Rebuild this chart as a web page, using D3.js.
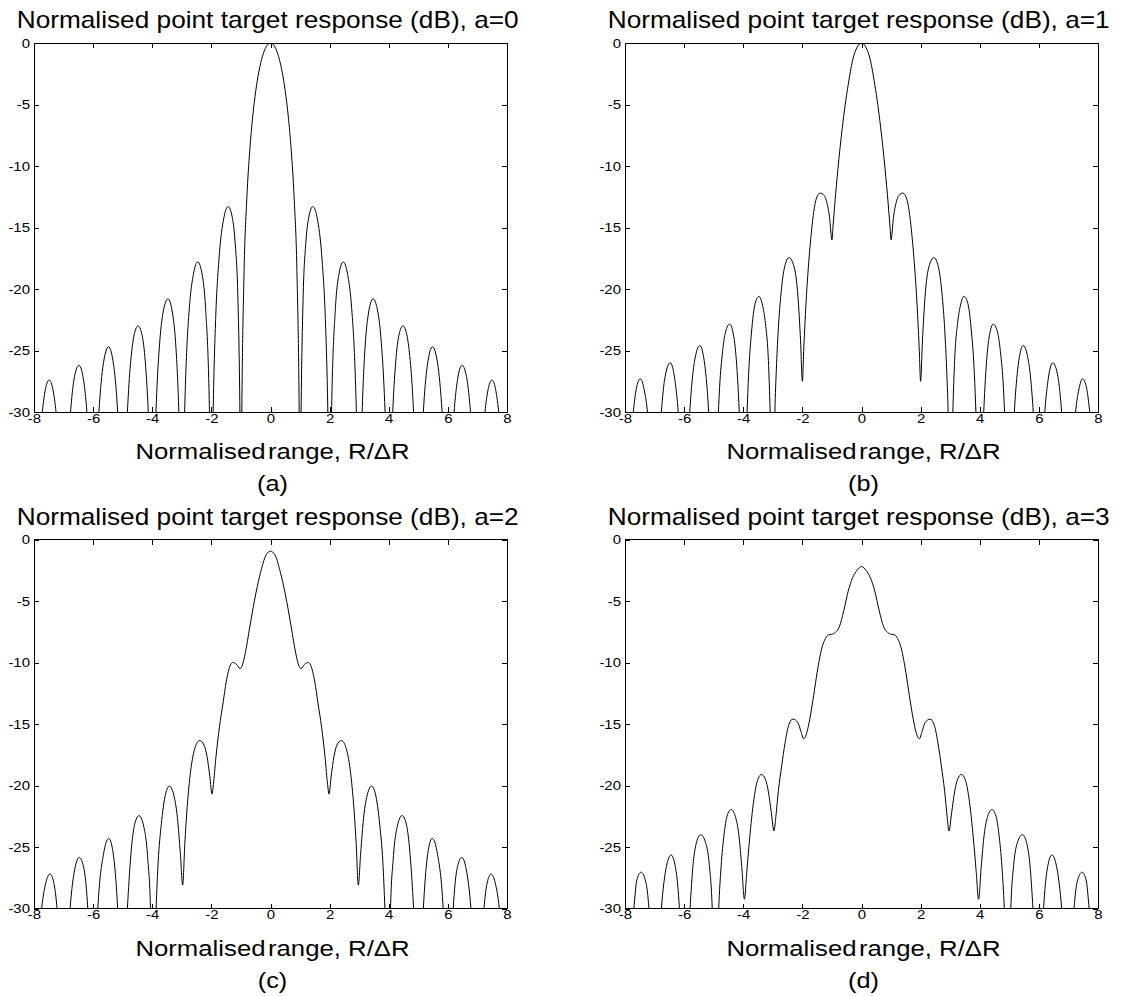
<!DOCTYPE html>
<html>
<head>
<meta charset="utf-8">
<script src="https://cdn.jsdelivr.net/npm/d3@7"></script>
<style>
body { margin: 0; background: #fff; }
svg text { font-family: "Liberation Sans", Arial, sans-serif; fill: #000; }
</style>
</head>
<body>
<svg id="chart" width="1130" height="996"></svg>
<script>
// tick values shared by the four panels
const x_ticks = [-8, -6, -4, -2, 0, 2, 4, 6, 8];
const y_ticks = [-30, -25, -20, -15, -10, -5, 0];

const titles = [
	'Normalised point target response (dB), a=0',
	'Normalised point target response (dB), a=1',
	'Normalised point target response (dB), a=2',
	'Normalised point target response (dB), a=3'
];
const captions = ['(a)', '(b)', '(c)', '(d)'];

// [R/dR, dB]; -40 = below the -30 floor (clipped)
const response_a0 = [
	[-8,-40],[-7.72,-30],[-7.6,-28],[-7.49,-27.4],[-7.35,-28.3],[-7.255,-30],[-7,-40],
	[-6.765,-30],[-6.65,-27.4],[-6.48,-26.2],[-6.3,-27.8],[-6.21,-30],[-6,-40],
	[-5.805,-30],[-5.65,-26],[-5.48,-24.7],[-5.3,-26.3],[-5.17,-30],[-5,-40],
	[-4.84,-30],[-4.8,-28.2],[-4.7,-25.2],[-4.6,-23.6],[-4.48,-23],[-4.35,-23.7],[-4.25,-25.5],[-4.135,-30],[-4,-40],
	[-3.875,-30],[-3.85,-28.5],[-3.75,-24.4],[-3.6,-21.5],[-3.47,-20.8],[-3.3,-22.2],[-3.2,-24.7],[-3.1,-30],[-3,-40],
	[-2.905,-30],[-2.85,-25.9],[-2.75,-21.7],[-2.6,-18.7],[-2.46,-17.8],[-2.3,-19],[-2.2,-21.4],[-2.065,-30],[-2,-40],
	[-1.94,-30],[-1.85,-22.1],[-1.75,-17.8],[-1.6,-14.5],[-1.43,-13.3],[-1.3,-14.1],[-1.2,-16.1],[-1.1,-21],[-1.035,-30],[-1,-40],
	[-0.97,-30],[-0.9,-19.2],[-0.8,-12.6],[-0.7,-8.69],[-0.6,-5.94],[-0.5,-3.92],[-0.4,-2.42],[-0.3,-1.33],[-0.2,-0.58],[-0.1,-0.14],
	[0,0],
	[0.1,-0.14],[0.2,-0.58],[0.3,-1.33],[0.4,-2.42],[0.5,-3.92],[0.6,-5.94],[0.7,-8.69],[0.8,-12.6],[0.9,-19.2],[0.97,-30],
	[1,-40],[1.035,-30],[1.1,-21],[1.2,-16.1],[1.3,-14.1],[1.43,-13.3],[1.6,-14.5],[1.75,-17.8],[1.85,-22.1],[1.94,-30],
	[2,-40],[2.065,-30],[2.2,-21.4],[2.3,-19],[2.46,-17.8],[2.6,-18.7],[2.75,-21.7],[2.85,-25.9],[2.905,-30],
	[3,-40],[3.1,-30],[3.2,-24.7],[3.3,-22.2],[3.47,-20.8],[3.6,-21.5],[3.75,-24.4],[3.85,-28.5],[3.875,-30],
	[4,-40],[4.135,-30],[4.25,-25.5],[4.35,-23.7],[4.48,-23],[4.6,-23.6],[4.7,-25.2],[4.8,-28.2],[4.84,-30],
	[5,-40],[5.17,-30],[5.3,-26.3],[5.48,-24.7],[5.65,-26],[5.805,-30],
	[6,-40],[6.21,-30],[6.3,-27.8],[6.48,-26.2],[6.65,-27.4],[6.765,-30],
	[7,-40],[7.255,-30],[7.35,-28.3],[7.49,-27.4],[7.6,-28],[7.72,-30],[8,-40]
];

const response_a1 = [
	[-8,-40],[-7.72,-30],[-7.6,-27.9],[-7.48,-27.3],[-7.35,-28.2],[-7.24,-30],[-7,-40],
	[-6.77,-30],[-6.65,-27.2],[-6.47,-26],[-6.3,-27.6],[-6.2,-30],[-6,-40],
	[-5.81,-30],[-5.65,-25.9],[-5.47,-24.6],[-5.3,-26.2],[-5.17,-30],[-5,-40],
	[-4.84,-30],[-4.8,-28],[-4.7,-25.1],[-4.6,-23.5],[-4.46,-22.85],[-4.35,-23.5],[-4.25,-25.3],[-4.135,-30],[-4,-40],
	[-3.87,-30],[-3.82,-27],[-3.72,-23.5],[-3.6,-21.2],[-3.47,-20.6],[-3.35,-21.3],[-3.25,-22.8],[-3.15,-25.8],[-3.09,-30],[-3,-40],
	[-2.93,-30],[-2.88,-26.5],[-2.82,-23.5],[-2.72,-20.3],[-2.6,-18.2],[-2.45,-17.45],[-2.28,-18.2],[-2.15,-20.6],[-2.06,-24.3],[-2,-27.5],
	[-1.95,-24.7],[-1.88,-21.3],[-1.8,-18.3],[-1.72,-16],[-1.62,-13.8],[-1.52,-12.6],[-1.4,-12.2],[-1.3,-12.3],[-1.18,-12.9],[-1.08,-14.2],[-1,-16],
	[-0.96,-14.8],[-0.9,-13],[-0.8,-10.3],[-0.65,-6.9],[-0.55,-5],[-0.45,-3.4],[-0.3,-1.4],[-0.15,-0.35],
	[0,0],
	[0.15,-0.35],[0.3,-1.4],[0.45,-3.4],[0.55,-5],[0.65,-6.9],[0.8,-10.3],[0.9,-13],[0.96,-14.8],
	[1,-16],[1.08,-14.2],[1.18,-12.9],[1.3,-12.3],[1.4,-12.2],[1.52,-12.6],[1.62,-13.8],[1.72,-16],[1.8,-18.3],[1.88,-21.3],[1.95,-24.7],
	[2,-27.5],[2.06,-24.3],[2.15,-20.6],[2.28,-18.2],[2.45,-17.45],[2.6,-18.2],[2.72,-20.3],[2.82,-23.5],[2.88,-26.5],[2.93,-30],
	[3,-40],[3.09,-30],[3.15,-25.8],[3.25,-22.8],[3.35,-21.3],[3.47,-20.6],[3.6,-21.2],[3.72,-23.5],[3.82,-27],[3.87,-30],
	[4,-40],[4.135,-30],[4.25,-25.3],[4.35,-23.5],[4.46,-22.85],[4.6,-23.5],[4.7,-25.1],[4.8,-28],[4.84,-30],
	[5,-40],[5.17,-30],[5.3,-26.2],[5.47,-24.6],[5.65,-25.9],[5.81,-30],
	[6,-40],[6.2,-30],[6.3,-27.6],[6.47,-26],[6.65,-27.2],[6.77,-30],
	[7,-40],[7.24,-30],[7.35,-28.2],[7.48,-27.3],[7.6,-27.9],[7.72,-30],[8,-40]
];

const response_a2 = [
	[-8,-40],[-7.74,-30],[-7.6,-27.9],[-7.46,-27.2],[-7.33,-27.9],[-7.22,-30],[-7,-40],
	[-6.78,-30],[-6.62,-26.8],[-6.47,-25.85],[-6.3,-26.9],[-6.18,-30],[-6,-40],
	[-5.84,-30],[-5.65,-25.6],[-5.47,-24.3],[-5.3,-25.9],[-5.17,-30],[-5,-40],
	[-4.84,-30],[-4.8,-28.3],[-4.7,-25],[-4.6,-23.2],[-4.45,-22.45],[-4.3,-23.2],[-4.15,-26],[-4.06,-30],[-4,-40],
	[-3.87,-30],[-3.8,-26.2],[-3.7,-23.3],[-3.55,-20.7],[-3.42,-20.05],[-3.25,-21],[-3.15,-22.6],[-3.05,-25.5],[-2.97,-28.1],
	[-2.9,-24.8],[-2.82,-21.8],[-2.7,-18.8],[-2.55,-16.9],[-2.4,-16.35],[-2.25,-16.7],[-2.15,-17.6],[-2.05,-19.3],[-1.98,-20.7],
	[-1.93,-19.9],[-1.85,-17.8],[-1.73,-15.3],[-1.6,-13.2],[-1.5,-11.6],[-1.4,-10.5],[-1.28,-10],[-1.15,-10.15],[-1.03,-10.5],
	[-0.95,-10.2],[-0.85,-9.2],[-0.7,-7.1],[-0.55,-5.05],[-0.45,-3.85],[-0.3,-2.35],[-0.15,-1.25],
	[0,-0.95],
	[0.15,-1.25],[0.3,-2.35],[0.45,-3.85],[0.55,-5.05],[0.7,-7.1],[0.85,-9.2],[0.95,-10.2],
	[1.03,-10.5],[1.15,-10.15],[1.28,-10],[1.4,-10.5],[1.5,-11.6],[1.6,-13.2],[1.73,-15.3],[1.85,-17.8],[1.93,-19.9],
	[1.98,-20.7],[2.05,-19.3],[2.15,-17.6],[2.25,-16.7],[2.4,-16.35],[2.55,-16.9],[2.7,-18.8],[2.82,-21.8],[2.9,-24.8],
	[2.97,-28.1],[3.05,-25.5],[3.15,-22.6],[3.25,-21],[3.42,-20.05],[3.55,-20.7],[3.7,-23.3],[3.8,-26.2],[3.87,-30],
	[4,-40],[4.06,-30],[4.15,-26],[4.3,-23.2],[4.45,-22.45],[4.6,-23.2],[4.7,-25],[4.8,-28.3],[4.84,-30],
	[5,-40],[5.17,-30],[5.3,-25.9],[5.47,-24.3],[5.65,-25.6],[5.84,-30],
	[6,-40],[6.18,-30],[6.3,-26.9],[6.47,-25.85],[6.62,-26.8],[6.78,-30],
	[7,-40],[7.22,-30],[7.33,-27.9],[7.46,-27.2],[7.6,-27.9],[7.74,-30],[8,-40]
];

const response_a3 = [
	[-8,-40],[-7.7,-30],[-7.6,-27.7],[-7.46,-27.05],[-7.3,-27.8],[-7.19,-30],[-7,-40],
	[-6.77,-30],[-6.6,-26.6],[-6.44,-25.65],[-6.27,-27],[-6.16,-30],[-6,-40],
	[-5.8,-30],[-5.7,-26.5],[-5.6,-24.8],[-5.44,-24],[-5.28,-24.6],[-5.15,-26.4],[-5.05,-30],[-4.95,-40],
	[-4.83,-30],[-4.75,-26.6],[-4.65,-24],[-4.55,-22.5],[-4.41,-21.95],[-4.27,-22.5],[-4.15,-24],[-4.05,-26.6],[-3.96,-29.25],
	[-3.88,-27],[-3.78,-24.2],[-3.65,-21.3],[-3.52,-19.6],[-3.38,-19.1],[-3.25,-19.5],[-3.15,-20.5],[-3.05,-22.2],[-2.96,-23.7],
	[-2.9,-22.6],[-2.81,-20.4],[-2.7,-18.4],[-2.59,-16.6],[-2.45,-15],[-2.32,-14.6],[-2.15,-14.9],[-2.05,-15.6],[-1.96,-16.2],
	[-1.85,-15.7],[-1.75,-14.6],[-1.62,-12.7],[-1.5,-10.8],[-1.35,-8.9],[-1.22,-8.05],[-1.12,-7.75],[-1,-7.7],[-0.88,-7.55],
	[-0.75,-7.1],[-0.6,-5.8],[-0.45,-4.2],[-0.3,-3.1],[-0.15,-2.5],
	[0,-2.2],
	[0.15,-2.5],[0.3,-3.1],[0.45,-4.2],[0.6,-5.8],[0.75,-7.1],
	[0.88,-7.55],[1,-7.7],[1.12,-7.75],[1.22,-8.05],[1.35,-8.9],[1.5,-10.8],[1.62,-12.7],[1.75,-14.6],[1.85,-15.7],
	[1.96,-16.2],[2.05,-15.6],[2.15,-14.9],[2.32,-14.6],[2.45,-15],[2.59,-16.6],[2.7,-18.4],[2.81,-20.4],[2.9,-22.6],
	[2.96,-23.7],[3.05,-22.2],[3.15,-20.5],[3.25,-19.5],[3.38,-19.1],[3.52,-19.6],[3.65,-21.3],[3.78,-24.2],[3.88,-27],
	[3.96,-29.25],[4.05,-26.6],[4.15,-24],[4.27,-22.5],[4.41,-21.95],[4.55,-22.5],[4.65,-24],[4.75,-26.6],[4.83,-30],
	[4.95,-40],[5.05,-30],[5.15,-26.4],[5.28,-24.6],[5.44,-24],[5.6,-24.8],[5.7,-26.5],[5.8,-30],
	[6,-40],[6.16,-30],[6.27,-27],[6.44,-25.65],[6.6,-26.6],[6.77,-30],
	[7,-40],[7.19,-30],[7.3,-27.8],[7.46,-27.05],[7.6,-27.7],[7.7,-30],[8,-40]
];

const responses = [response_a0, response_a1, response_a2, response_a3];

// panel layout (left, top) in px
const panel_pos = [[34, 43], [625, 43], [34, 539.5], [625, 539.5]];
const plot_w = 473;
const plot_h = 369;
// the original figure text is a bit wider than its height suggests
const stretch = 1.15;
const title_stretch = 1.14;

const svg = d3.select('#chart');

function make_panel(i){
	const left = panel_pos[i][0];
	const top = panel_pos[i][1];
	const bottom = top + plot_h;

	let x = d3.scaleLinear().domain([-8, 8]).range([left, left + plot_w]);
	let y = d3.scaleLinear().domain([-30, 0]).range([bottom, top]);

	let g = svg.append('g');

	// title
	g.append('text')
		.attr('transform', 'translate(' + (left - 17.3) + ',' + (top - 15) + ') scale(' + title_stretch + ',1)')
		.attr('font-size', '23px')
		.text(titles[i]);

	// clip the curve to the axes box
	g.append('clipPath')
		.attr('id', 'clip' + i)
		.append('rect')
		.attr('x', left)
		.attr('y', top)
		.attr('width', plot_w)
		.attr('height', plot_h);

	let line = d3.line()
		.x(d => x(d[0]))
		.y(d => y(d[1]))
		.curve(d3.curveMonotoneX);

	g.append('path')
		.datum(responses[i])
		.attr('clip-path', 'url(#clip' + i + ')')
		.attr('fill', 'none')
		.attr('stroke', '#000')
		.attr('stroke-width', 1)
		.attr('d', line);

	const fmt = d => `${d}`;

	let bottom_axis = g.append('g')
		.attr('transform', 'translate(0,' + bottom + ')')
		.call(d3.axisBottom(x).tickValues(x_ticks).tickSize(-5).tickPadding(1.5).tickFormat(fmt));

	let top_axis = g.append('g')
		.attr('transform', 'translate(0,' + top + ')')
		.call(d3.axisTop(x).tickValues(x_ticks).tickSize(-5).tickFormat(''));

	let left_axis = g.append('g')
		.attr('transform', 'translate(' + left + ',0)')
		.call(d3.axisLeft(y).tickValues(y_ticks).tickSize(-5).tickPadding(3.5).tickFormat(fmt));

	let right_axis = g.append('g')
		.attr('transform', 'translate(' + (left + plot_w) + ',0)')
		.call(d3.axisRight(y).tickValues(y_ticks).tickSize(-5).tickFormat(''));

	[bottom_axis, top_axis, left_axis, right_axis].forEach(function (a){
		a.select('.domain').remove();
		a.selectAll('line').attr('stroke', '#000').attr('shape-rendering', 'crispEdges');
		a.selectAll('text')
			.attr('font-family', '"Liberation Sans", Arial, sans-serif')
			.attr('font-size', '13px')
			.attr('fill', '#000')
			.attr('transform', 'scale(' + stretch + ',1)');
	});

	// axes box
	g.append('rect')
		.attr('x', left)
		.attr('y', top)
		.attr('width', plot_w)
		.attr('height', plot_h)
		.attr('fill', 'none')
		.attr('stroke', '#000')
		.attr('shape-rendering', 'crispEdges');

	// x label and panel caption
	let cx = left + plot_w / 2 + 2;
	let label = g.append('text')
		.attr('transform', 'translate(' + cx + ',' + (bottom + 47) + ') scale(1.17,1)')
		.attr('text-anchor', 'middle')
		.attr('font-size', '22px');
	label.append('tspan').style('word-spacing', '-4px').text('Normalised range,');
	label.append('tspan').text(' R/ΔR');

	g.append('text')
		.attr('transform', 'translate(' + cx + ',' + (bottom + 79) + ') scale(' + stretch + ',1)')
		.attr('text-anchor', 'middle')
		.attr('font-size', '22px')
		.text(captions[i]);
}

for (let i = 0; i < 4; i++){
	make_panel(i);
}
</script>
</body>
</html>
